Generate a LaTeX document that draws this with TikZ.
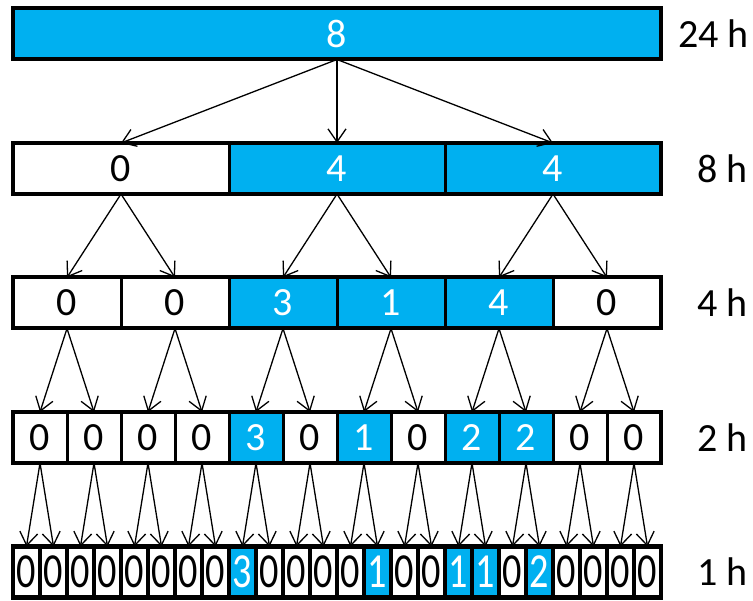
\documentclass[tikz,border=0pt]{standalone}
\usepackage{fontspec}
\setmainfont{Carlito}
\usepackage{graphicx}
\usetikzlibrary{arrows.meta}
\definecolor{cellblue}{HTML}{00B0F0}
\tikzset{
  cell/.style={draw=black, line width=3pt, inner sep=0pt, outer sep=0pt, minimum height=51pt, font=\fontsize{40}{40}\selectfont},
  cellw/.style={cell, fill=white, text=black},
  cellb/.style={cell, fill=cellblue, text=white},
  frame/.style={draw=black, line width=4pt},
  conn/.style={line width=1.3pt, -{Straight Barb[length=13pt,width=18pt,line width=1.3pt]}},
  lab/.style={anchor=west, font=\fontsize{40}{40}\selectfont, inner sep=0pt}
}
\begin{document}
\begin{tikzpicture}[x=1pt,y=-1pt]
\useasboundingbox (0,0) rectangle (753,601);
% row 1
\node[cellb, minimum width=648pt] (a1) at (337,34) {8};
\draw[frame] (a1.north west) rectangle (a1.south east);
% row 2
\foreach \v/\c [count=\i] in {0/w,4/b,4/b}
  \node[cell\c, minimum width=216pt] (b\i) at ({13+108+216*(\i-1)},168.5) {\v};
\draw[frame] (b1.north west) rectangle (b3.south east);
% row 3
\foreach \v/\c [count=\i] in {0/w,0/w,3/b,1/b,4/b,0/w}
  \node[cell\c, minimum width=108pt] (c\i) at ({13+54+108*(\i-1)},303) {\v};
\draw[frame] (c1.north west) rectangle (c6.south east);
% row 4
\foreach \v/\c [count=\i] in {0/w,0/w,0/w,0/w,3/b,0/w,1/b,0/w,2/b,2/b,0/w,0/w}
  \node[cell\c, minimum width=54pt] (d\i) at ({13+27+54*(\i-1)},437.5) {\v};
\draw[frame] (d1.north west) rectangle (d12.south east);
% row 5
\foreach \v/\c [count=\i] in {0/w,0/w,0/w,0/w,0/w,0/w,0/w,0/w,3/b,0/w,0/w,0/w,0/w,1/b,0/w,0/w,1/b,1/b,0/w,2/b,0/w,0/w,0/w,0/w}
  \node[cell\c, line width=4.5pt, minimum width=27pt] (e\i) at ({13+13.5+27*(\i-1)},572) {\scalebox{0.78}[1]{\fontsize{49}{49}\selectfont\v}};
\draw[frame] (e1.north west) rectangle (e24.south east);
% connectors
\foreach \i in {1,2,3} \draw[conn] (a1.south) -- (b\i.north);
\foreach \i in {1,2,3} {
  \pgfmathtruncatemacro\ca{2*\i-1}\pgfmathtruncatemacro\cb{2*\i}
  \draw[conn] (b\i.south) -- (c\ca.north);
  \draw[conn] (b\i.south) -- (c\cb.north);
}
\foreach \i in {1,...,6} {
  \pgfmathtruncatemacro\ca{2*\i-1}\pgfmathtruncatemacro\cb{2*\i}
  \draw[conn] (c\i.south) -- (d\ca.north);
  \draw[conn] (c\i.south) -- (d\cb.north);
}
\foreach \i in {1,...,12} {
  \pgfmathtruncatemacro\ca{2*\i-1}\pgfmathtruncatemacro\cb{2*\i}
  \draw[conn] (d\i.south) -- (e\ca.north);
  \draw[conn] (d\i.south) -- (e\cb.north);
}
% labels
\node[lab] (l1) at (678,34) {24 h};
\node[lab] (l2) at (697,168.5) {8 h};
\node[lab] (l3) at (697,303) {4 h};
\node[lab] (l4) at (697,437.5) {2 h};
\node[lab] (l5) at (697,572) {1 h};
\end{tikzpicture}
\end{document}
